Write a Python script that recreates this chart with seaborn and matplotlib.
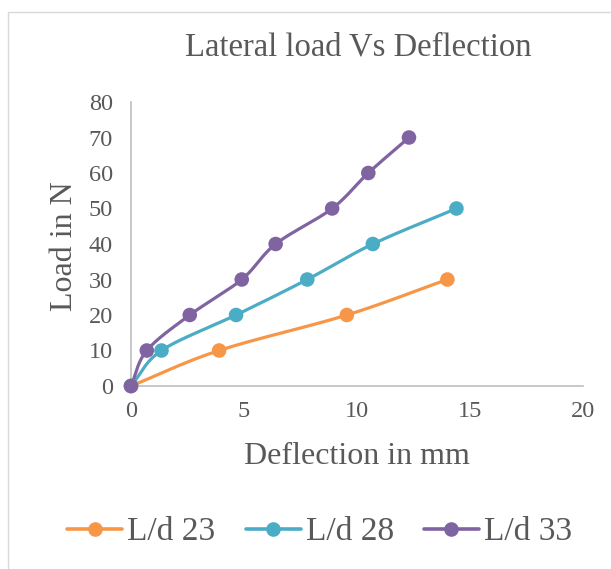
import numpy as np
import pandas as pd
import matplotlib
matplotlib.use("Agg")
import matplotlib.pyplot as plt
import seaborn as sns
from matplotlib.lines import Line2D
from matplotlib.patches import Rectangle

series_names = ["L/d 23", "L/d 28", "L/d 33"]
defl_23 = [0.0, 3.9, 9.55, 14.0]
load_23 = [0, 10, 20, 30]
defl_28 = [0.0, 1.35, 4.65, 7.8, 10.7, 14.4]
load_28 = [0, 10, 20, 30, 40, 50]
defl_33 = [0.0, 0.7, 2.6, 4.9, 6.4, 8.9, 10.5, 12.3]
load_33 = [0, 10, 20, 30, 40, 50, 60, 70]
colors = ["#F79646", "#4BACC6", "#8064A2"]
x_ticks = [0, 5, 10, 15, 20]
y_ticks = [0, 10, 20, 30, 40, 50, 60, 70, 80]

frames = []
for name, xs, ys in zip(series_names, [defl_23, defl_28, defl_33], [load_23, load_28, load_33]):
    frames.append(pd.DataFrame({"Deflection": xs, "Load": ys, "Series": name}))
df = pd.concat(frames, ignore_index=True)

sns.set_theme(style="white")
plt.rcParams["font.family"] = ["Liberation Serif", "DejaVu Serif"]
gray = "#595959"

fig = plt.figure(figsize=(6.11, 5.69), dpi=100)
fig.patches.append(Rectangle((8 / 611, -0.05), 1.1, 1 - 12 / 569 + 0.05, transform=fig.transFigure,
                             fill=False, edgecolor="#D9D9D9", linewidth=1.0))
ax = fig.add_axes([131 / 611, 1 - 386 / 569, (583 - 131) / 611, (386 - 102) / 569])


def smooth(xs, ys, n=30):
    # Catmull-Rom style smoothing like Excel "smoothed line"
    p = np.column_stack([xs, ys]).astype(float)
    pts = [p[0] - (p[1] - p[0])] + list(p) + [p[-1] + (p[-1] - p[-2])]
    pts = np.array(pts)
    out = []
    for i in range(1, len(pts) - 2):
        p0, p1, p2, p3 = pts[i - 1], pts[i], pts[i + 1], pts[i + 2]
        t = np.linspace(0, 1, n)[:, None]
        c1 = p1 + (p2 - p0) / 6
        c2 = p2 - (p3 - p1) / 6
        seg = (1 - t) ** 3 * p1 + 3 * (1 - t) ** 2 * t * c1 + 3 * (1 - t) * t ** 2 * c2 + t ** 3 * p2
        out.append(seg)
    out = np.vstack(out)
    return out[:, 0], out[:, 1]


for name, c in zip(series_names, colors):
    sub = df[df["Series"] == name]
    sx, sy = smooth(sub["Deflection"].values, sub["Load"].values)
    ax.plot(sx, sy, color=c, linewidth=2.3, solid_capstyle="round", zorder=2, clip_on=False)

for name, c in zip(series_names, colors):
    sub = df[df["Series"] == name]
    sns.scatterplot(data=sub, x="Deflection", y="Load", color=c,
                    s=110, edgecolor="none", ax=ax, legend=False, zorder=3, clip_on=False)

ax.set_xlim(0, 20)
ax.set_ylim(0, 80)
ax.set_xticks(x_ticks)
ax.set_yticks(y_ticks)
ax.tick_params(axis="y", length=0, labelsize=17.5, labelcolor=gray, pad=13)
ax.tick_params(axis="x", length=0, labelsize=17.5, labelcolor=gray, pad=11)
for s in ["top", "right"]:
    ax.spines[s].set_visible(False)
for s in ["left", "bottom"]:
    ax.spines[s].set_color("#BFBFBF")
    ax.spines[s].set_linewidth(1.2)
ax.set_xlabel("")
ax.set_ylabel("")

fig.text(358 / 611, 1 - 47 / 569, "Lateral load Vs Deflection", ha="center", va="center",
         fontsize=23.5, color=gray)
fig.text(357 / 611, 1 - 457 / 569, "Deflection in mm", ha="center", va="center",
         fontsize=23, color=gray)
fig.text(65 / 611, 1 - 246 / 569, "Load in N", ha="center", va="center", rotation=90,
         fontsize=23, color=gray)

handles = [Line2D([], [], color=c, linewidth=2.6, marker="o", markersize=9.5) for c in colors]
fig.legend(handles, series_names, loc="center", bbox_to_anchor=(319.5 / 611, 1 - 532 / 569), ncol=3,
           frameon=False, fontsize=24, labelcolor=gray, handlelength=1.65, handletextpad=0.15,
           columnspacing=0.9, borderpad=0, borderaxespad=0)

fig.savefig("out.png", dpi=100)
